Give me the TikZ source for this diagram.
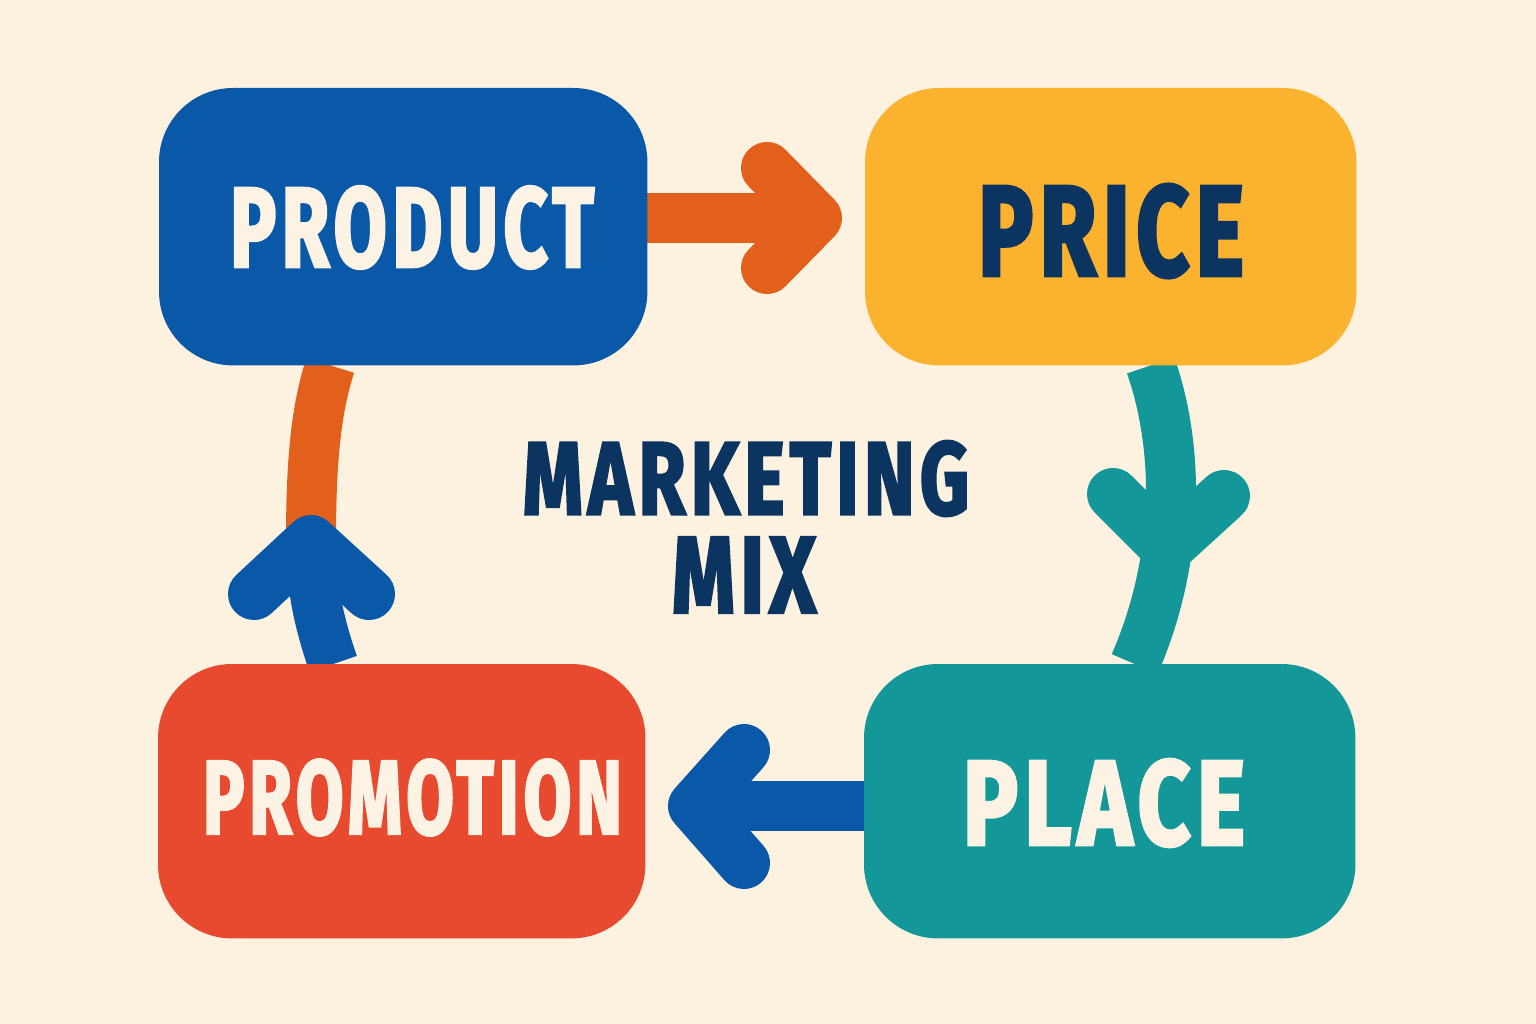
\documentclass[tikz,border=0pt]{standalone}
\usepackage{fontspec}
\setmainfont{Fira Sans}[BoldFeatures={FakeBold=3,LetterSpace=7}]
\usepackage{graphicx}
\definecolor{bg}{HTML}{FDF1E0}
\definecolor{cblue}{HTML}{0A58A8}
\definecolor{cyellow}{HTML}{FBB22E}
\definecolor{cred}{HTML}{E84A30}
\definecolor{cteal}{HTML}{139799}
\definecolor{cnavy}{HTML}{0B3461}
\definecolor{corange}{HTML}{E3601C}
\definecolor{ccream}{HTML}{FDF3E4}
\begin{document}
\begin{tikzpicture}[x=1pt,y=-1pt,
  box/.style={inner sep=0pt, anchor=north west},
  lbl/.style={inner sep=0pt, font=\bfseries},
  arr/.style={line width=52pt, line cap=round, line join=round},
  shaft/.style={line width=50pt, line cap=butt}]
\useasboundingbox[fill=bg] (0,0) rectangle (1536,1024);

% arrow coordinates
\coordinate (a1tip) at (816,218);
\coordinate (a2tip) at (1167,548);
\coordinate (a3tip) at (694,806);
\coordinate (a4tip) at (311,541);

% boxes (shapes only; filled after the arrows)
\path (159,88) node[box, minimum width=488pt, minimum height=277pt] (product) {};
\path (865,88) node[box, minimum width=491pt, minimum height=277pt] (price) {};
\path (158,664) node[box, minimum width=487pt, minimum height=274pt] (promotion) {};
\path (864,664) node[box, minimum width=491pt, minimum height=274pt] (place) {};

% arrow 1: product -> price
\draw[shaft, corange] (product.east |- a1tip) -- (a1tip);
\draw[arr, corange] (a1tip) ++(-49,-50) -- (a1tip) -- ++(-49,50);

% arrow 2: price -> place
\draw[shaft, cteal] ([xshift=40pt]price.south) .. controls (1180,450) and (1180,560) .. ([xshift=25pt]place.north);
\draw[arr, cteal] (a2tip) ++(-54,-54) -- (a2tip) -- ++(57,-52);

% arrow 3: place -> promotion
\draw[shaft, cblue] (place.west |- a3tip) -- (a3tip);
\draw[arr, cblue] (a3tip) ++(50,-56) -- (a3tip) -- ++(50,57);

% arrow 4: promotion -> product
\draw[shaft, corange] (a4tip) .. controls (311,460) and (316,410) .. ([xshift=-73pt]product.south);
\draw[shaft, cblue] ([xshift=-68.5pt]promotion.north) .. controls (318,620) and (311,585) .. (a4tip);
\draw[arr, cblue] (a4tip) ++(-57,53) -- (a4tip) -- ++(58,53);

% box fills
\fill[cblue, rounded corners=74pt] (product.north west) rectangle (product.south east);
\fill[cyellow, rounded corners=74pt] (price.north west) rectangle (price.south east);
\fill[cred, rounded corners=74pt] (promotion.north west) rectangle (promotion.south east);
\fill[cteal, rounded corners=74pt] (place.north west) rectangle (place.south east);

% labels
\node[lbl, text=ccream] (productlbl) at (412,227.5) {\resizebox{364pt}{80pt}{PRODUCT}};
\node[lbl, text=cnavy] (pricelbl) at (1111,231) {\resizebox{266pt}{91pt}{PRICE}};
\node[lbl, text=ccream] (promotionlbl) at (412.5,797.5) {\resizebox{419pt}{74pt}{PROMOTION}};
\node[lbl, text=ccream] (placelbl) at (1104,803) {\resizebox{282pt}{85pt}{PLACE}};
\node[lbl, text=cnavy] (mktlbl) at (746,478.5) {\resizebox{446pt}{73pt}{MARKETING}};
\node[lbl, text=cnavy] (mixlbl) at (744,575) {\resizebox{144pt}{75pt}{MIX}};
\end{tikzpicture}
\end{document}
